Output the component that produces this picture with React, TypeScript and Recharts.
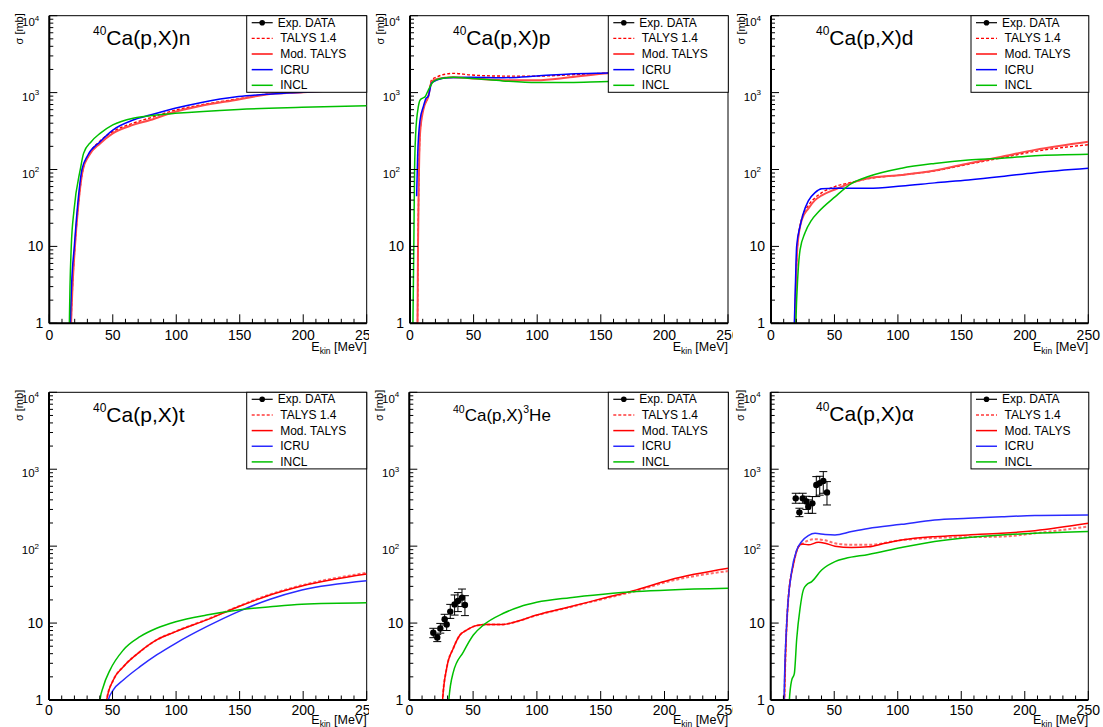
import React from 'react';
import { ComposedChart, Line, Scatter, XAxis, YAxis, ReferenceArea, ErrorBar } from 'recharts';

// ---------- data: [E_kin (MeV), sigma (mb)] ----------
// (p,X)n
const N_TALYS14 = [[16.8,0.5],[17.2,1],[18.3,3],[20.2,10],[22.5,30],[26.5,100],[31,155],[40,235],[50,310],[66,400],[79.5,470],[99,590],[119,690],[149,830],[170,950],[200,1020],[225,1080],[250,1130]];
const N_MOD = [[16.8,0.5],[17.2,1],[18.3,3],[20.2,10],[22.5,30],[26.5,100],[31,150],[40,218],[50,295],[66,380],[79.5,440],[99,565],[119,670],[149,815],[170,940],[200,1010],[225,1070],[250,1120]];
const N_ICRU = [[16.3,0.5],[16.6,1],[17.5,3],[19.7,10],[22,30],[25.7,100],[30,150],[40,230],[50,326],[66,440],[79.5,510],[99,625],[119,740],[149,888],[175,960],[200,1010],[225,1060],[250,1100]];
const N_INCL = [[15.5,0.5],[15.8,1],[16.3,3],[17.3,10],[19.5,30],[24.4,100],[27,162],[33,230],[40,295],[50,380],[66,465],[79.5,500],[99,537],[149,605],[199,643],[250,675]];
// (p,X)p
const P_TALYS14 = [[5.7,0.5],[5.9,1],[6.3,10],[6.8,50],[7.9,300],[10.5,610],[14.4,900],[17,1460],[21,1600],[34,1780],[47,1700],[73,1640],[99.5,1640],[125.7,1700],[155.8,1800],[200,1900],[250,2000]];
const P_MOD = [[5.7,0.5],[5.9,1],[6.3,10],[6.8,50],[7.9,295],[10.5,600],[14.4,890],[17,1390],[21,1500],[34,1580],[47,1540],[73,1450],[99.5,1450],[125.7,1580],[155.8,1780],[200,1900],[250,2000]];
const P_ICRU = [[5.2,45],[6,150],[7.9,440],[10.5,660],[12.6,840],[14.4,900],[17,1330],[21,1450],[28.8,1560],[47,1580],[73,1560],[99.5,1640],[125.7,1750],[155.8,1800],[200,1870],[250,1930]];
const P_INCL = [[2.0,0.5],[2.3,1],[3,10],[3.6,100],[4.5,300],[5.2,440],[6.5,650],[7.9,800],[10,850],[11.8,880],[14.4,1080],[18.3,1390],[22,1490],[26,1540],[34,1580],[47,1540],[73,1420],[99.5,1350],[125.7,1350],[155.8,1390],[200,1400],[250,1410]];
// (p,X)d
const D_TALYS14 = [[18.3,0.5],[18.8,1],[19.6,3],[20.8,10],[24.2,23],[29.4,34],[34.7,43],[40,50],[50.4,60],[63.6,68],[76.7,76],[103,85],[129,96],[155.5,117],[181.7,142],[208,172],[250,210]];
const D_MOD = [[18.3,0.5],[18.8,1],[19.6,3],[20.8,10],[24.2,22],[29.4,31],[34.7,40],[40,46],[50.4,55],[63.6,67],[76.7,77],[103,85],[129,97],[155.5,120],[181.7,147],[208,180],[250,230]];
const D_ICRU = [[18.0,0.5],[18.4,1],[19.2,3],[20.2,10],[22.8,18],[25.5,27],[29.4,39],[34.7,50],[40,56],[50.4,57],[76.7,57],[103,61],[129,67],[155.5,73],[181.7,81],[208,91],[250,104]];
const D_INCL = [[19.2,0.5],[19.6,1],[21.1,4],[22.9,9],[26.8,15],[32,22],[37.3,28],[50.4,44],[63.6,66],[76.7,81],[103,104],[129,120],[155.5,133],[181.7,140],[208,151],[250,158]];
// (p,X)t
const T_TALYS14 = [[45,0.6],[45.4,1],[50.6,1.82],[58.5,2.71],[71.6,4.25],[84.7,6.03],[99.7,7.8],[124,11.1],[149,16.5],[174,23.6],[199,31],[250,45]];
const T_MOD = [[45,0.6],[45.4,1],[50.6,1.82],[58.5,2.71],[71.6,4.25],[84.7,6.03],[99.7,7.73],[124,11],[149,16.3],[174,23.2],[199,30.4],[250,43.5]];
const T_ICRU = [[46.3,0.6],[46.7,1],[50.6,1.35],[58.5,1.82],[71.6,2.71],[84.7,3.85],[99.7,5.46],[124,8.97],[149,14.1],[174,20.4],[199,26.9],[250,35.6]];
const T_INCL = [[39.8,0.6],[40.1,1],[42.7,1.49],[48,2.45],[58.5,4.47],[71.6,6.65],[84.7,8.55],[99.7,10.4],[124,12.7],[149,14.8],[174,16.3],[199,17.6],[250,18.4]];
// (p,X)3He
const H_TALYS14 = [[25.8,0.6],[26.1,1],[29.3,2.6],[34.5,4.7],[39.7,7],[44.9,8.1],[52.8,9.3],[60.6,9.6],[73.7,9.6],[81.5,10.2],[99.8,12.6],[125.9,16.1],[152,20.6],[178,26.3],[204,35],[250,47.5]];
const H_MOD = [[25.8,0.6],[26.1,1],[29.3,2.6],[34.5,4.7],[39.7,7],[44.9,8.1],[52.8,9.3],[60.6,9.6],[73.7,9.6],[81.5,10.2],[99.8,12.7],[125.9,16.3],[152,21],[178,27],[204,36.4],[250,51.5]];
const H_INCL = [[30.8,0.6],[31,1],[34.5,2.3],[42.3,4.2],[50.2,7],[58,9.4],[73.7,13.4],[86.7,16.3],[99.8,18.6],[125.9,21.4],[152,23.7],[178,25.7],[204,27],[250,28.3]];
const H_EXP = [[18.8,7.5,1.04,1.05],[21.9,6.5,0.76,0.64],[24.3,8.5,1.1,1.4],[27.7,11.2,1.75,1.8],[29.3,9.6,1.6,1.9],[32.1,14.1,2.6,3.4],[35.5,17.5,4.8,5.7],[38.1,19.4,5.3,5.5],[41.3,21.4,5.0,6.3],[43.6,17.2,4.7,5.5]];
// (p,X)alpha
const A_TALYS14 = [[10.6,0.6],[10.8,1],[13.9,21],[17.8,57],[21.8,98],[24.4,106],[34,123],[42.8,119],[50.6,109],[63.7,104],[76.9,104],[103,120],[129,128],[155.5,131],[181.8,133],[208,147],[250,180]];
const A_MOD = [[10.6,0.6],[10.8,1],[13.9,21],[17.8,57],[21.8,98],[24.4,107],[29.6,104],[37.5,112],[42.8,109],[50.6,100],[63.7,96],[76.9,98],[90,109],[103,120],[129,133],[155.5,140],[181.8,147],[208,159],[250,198]];
const A_ICRU = [[10.3,0.6],[10.5,1],[12.6,10],[16.5,47],[20.5,89],[24.4,115],[29.6,137],[34.9,147],[42.8,142],[50.6,140],[63.7,155],[76.9,170],[103,192],[129,219],[155.5,230],[181.8,241],[208,250],[250,254]];
const A_INCL = [[14.5,0.6],[14.7,1],[16.5,1.8],[18.6,2.2],[20.5,6.3],[23.1,15.5],[25.7,27],[28.3,31.5],[32.3,34.6],[40.1,49],[50.6,63],[58.5,69],[76.9,78],[103,96],[129,115],[155.5,130],[181.8,140],[208,147],[250,155]];
const A_EXP = [[19.7,418,57,69],[22.6,275,33,36],[25.2,418,57,69],[28.1,380,80,65],[29.6,325,58,74],[32.8,360,93,81],[35.9,625,184,177],[38.6,660,200,150],[41.4,705,218,226],[44.3,500,157,190]];

// ---------- ticks & labels ----------
const X_TICKS = [0,10,20,30,40,50,60,70,80,90,100,110,120,130,140,150,160,170,180,190,200,210,220,230,240,250];
const Y_TICKS = [1,2,3,4,5,6,7,8,9,10,20,30,40,50,60,70,80,90,100,200,300,400,500,600,700,800,900,1000,2000,3000,4000,5000,6000,7000,8000,9000,10000];
const LEGEND_LABELS = ['Exp. DATA', 'TALYS 1.4', 'Mod. TALYS', 'ICRU', 'INCL'];
const PARTICLES = ['n', 'p', 'd', 't', 'He', 'α'];

type Pt = { e: number; s: number };
const toPts = (a: number[][]): Pt[] => a.map(([e, s]) => ({ e, s }));
const toExp = (a: number[][]) => a.map(([e, s, lo, hi]) => ({ e, s, err: [lo, hi] }));

const FONT = '"Liberation Sans", Arial, Helvetica, sans-serif';

const YTick = (props: any) => {
  const { x, y, payload } = props;
  const v = payload.value as number;
  const lg = Math.log10(v);
  const n = Math.round(lg);
  const major = Math.abs(lg - n) < 1e-6;
  return (
    <g>
      <line x1={x} x2={x + (major ? 8 : 4)} y1={y} y2={y} stroke="#000" strokeWidth={1} />
      {major && n <= 1 && (
        <text x={x - 6} y={y + 5} textAnchor="end" fontSize={14} fill="#000" fontFamily={FONT}>{n === 0 ? '1' : '10'}</text>
      )}
      {major && n >= 2 && (
        <text x={x - 10} y={y + (n === 4 ? 10.5 : 8)} textAnchor="end" fontSize={11.5} fill="#000" fontFamily={FONT}>
          10<tspan dy={-5.5} fontSize={8}>{String(n)}</tspan>
        </text>
      )}
    </g>
  );
};

const makeXTick = (dy: number) => (props: any) => {
  const { x, y, payload } = props;
  const v = payload.value as number;
  const major = v % 50 === 0;
  return (
    <g>
      <line x1={x} x2={x} y1={y} y2={y - (major ? 9 : 4.5)} stroke="#000" strokeWidth={1} />
      {major && (
        <text x={x} y={y + dy} textAnchor="middle" fontSize={14} fill="#000" fontFamily={FONT}>{v}</text>
      )}
    </g>
  );
};

const ExpDot = (p: any) => <circle cx={p.cx} cy={p.cy} r={3.2} fill="#000" />;

type Cfg = {
  pad: [number, number, number, number];
  plot: [number, number, number, number];
  row: 0 | 1;
  particle: number;
  titleX: number;
  titleY: number;
  legend: [number, number];
  talys: Pt[];
  mod: Pt[];
  icru?: Pt[];
  incl: Pt[];
  exp?: { e: number; s: number; err: number[] }[];
};

const PANELS: Cfg[] = [
  { pad: [0, 0, 369, 363], plot: [49.3, 366.7, 15.7, 323.3], row: 0, particle: 0, titleX: 93, titleY: 45, legend: [246.7, 366.7], talys: toPts(N_TALYS14), mod: toPts(N_MOD), icru: toPts(N_ICRU), incl: toPts(N_INCL) },
  { pad: [369, 0, 364, 363], plot: [410, 728, 15.7, 323.3], row: 0, particle: 1, titleX: 453, titleY: 45, legend: [608.3, 728.3], talys: toPts(P_TALYS14), mod: toPts(P_MOD), icru: toPts(P_ICRU), incl: toPts(P_INCL) },
  { pad: [733, 0, 370, 363], plot: [771, 1088.3, 15.7, 323.3], row: 0, particle: 2, titleX: 816, titleY: 45, legend: [971, 1088.8], talys: toPts(D_TALYS14), mod: toPts(D_MOD), icru: toPts(D_ICRU), incl: toPts(D_INCL) },
  { pad: [0, 363, 369, 364], plot: [49, 366.7, 392.3, 700], row: 1, particle: 3, titleX: 93, titleY: 422, legend: [246.7, 366.7], talys: toPts(T_TALYS14), mod: toPts(T_MOD), icru: toPts(T_ICRU), incl: toPts(T_INCL) },
  { pad: [369, 363, 364, 364], plot: [409.3, 728.3, 392.3, 700], row: 1, particle: 4, titleX: 453, titleY: 421, legend: [608.3, 728.3], talys: toPts(H_TALYS14), mod: toPts(H_MOD), incl: toPts(H_INCL), exp: toExp(H_EXP) },
  { pad: [733, 363, 370, 364], plot: [770.7, 1088.3, 392.3, 700], row: 1, particle: 5, titleX: 816, titleY: 421, legend: [971, 1088.8], talys: toPts(A_TALYS14), mod: toPts(A_MOD), icru: toPts(A_ICRU), incl: toPts(A_INCL), exp: toExp(A_EXP) },
];

const STYLES = [
  { talys: { stroke: '#ff0000', w: 1.4 }, mod: { stroke: '#ff4a4a', w: 2 }, icru: '#0000ff', incl: '#00c000' },
  { talys: { stroke: '#ff6a6a', w: 2 }, mod: { stroke: '#ff0000', w: 1.5 }, icru: '#2a2aff', incl: '#00c000' },
];

function Title({ cfg, ox, oy }: { cfg: Cfg; ox: number; oy: number }) {
  const x = cfg.titleX - ox;
  const y = cfg.titleY - oy;
  if (cfg.particle === 4) {
    return (
      <text x={x} y={y} fontSize={17} fill="#000" fontFamily={FONT}>
        <tspan fontSize={10.5} dy={-8.5}>40</tspan>
        <tspan dy={8.5}>Ca(p,X)</tspan>
        <tspan fontSize={10.5} dy={-8.5}>3</tspan>
        <tspan dy={8.5}>{PARTICLES[4]}</tspan>
      </text>
    );
  }
  return (
    <text x={x} y={y} fontSize={21} fill="#000" fontFamily={FONT}>
      <tspan fontSize={12} dy={-10}>40</tspan>
      <tspan dy={10}>{'Ca(p,X)' + PARTICLES[cfg.particle]}</tspan>
    </text>
  );
}

function LegendBox({ cfg, ox, oy, st }: { cfg: Cfg; ox: number; oy: number; st: any }) {
  const x = cfg.legend[0] - ox;
  const w = cfg.legend[1] - cfg.legend[0];
  const y = cfg.plot[2] - oy;
  const h = 76.6;
  const rows = LEGEND_LABELS.map((lab, i) => {
    const cy = y + 7 + i * 15.65;
    let sample: React.ReactNode = null;
    if (i === 0) {
      sample = (
        <g>
          <line x1={x + 5} x2={x + 26} y1={cy} y2={cy} stroke="#000" strokeWidth={1.2} />
          <circle cx={x + 15.5} cy={cy} r={2.8} fill="#000" />
        </g>
      );
    } else if (i === 1) {
      sample = <line x1={x + 5} x2={x + 26} y1={cy} y2={cy} stroke={st.talys.stroke} strokeWidth={st.talys.w} strokeDasharray="3 2" />;
    } else if (i === 2) {
      sample = <line x1={x + 5} x2={x + 26} y1={cy} y2={cy} stroke={st.mod.stroke} strokeWidth={st.mod.w} />;
    } else if (i === 3) {
      sample = <line x1={x + 5} x2={x + 26} y1={cy} y2={cy} stroke={st.icru} strokeWidth={1.5} />;
    } else {
      sample = <line x1={x + 5} x2={x + 26} y1={cy} y2={cy} stroke={st.incl} strokeWidth={1.5} />;
    }
    return (
      <g key={lab}>
        {sample}
        <text x={x + (i === 0 ? 31 : 33.5)} y={cy + 4} fontSize={12} fill="#000" fontFamily={FONT}>{lab}</text>
      </g>
    );
  });
  return (
    <g>
      <rect x={x} y={y} width={w} height={h} fill="#fff" stroke="#000" strokeWidth={1} />
      {rows}
    </g>
  );
}

function Panel({ cfg }: { cfg: Cfg }) {
  const [px, py, pw, ph] = cfg.pad;
  const [l, r, t, b] = cfg.plot;
  const L = l - px;
  const R = r - px;
  const T = t - py;
  const B = b - py;
  const chartW = pw + 40;
  const chartH = ph;
  const st = STYLES[cfg.row];
  const xTick = makeXTick(cfg.row === 0 ? 16.7 : 15);
  return (
    <div style={{ position: 'absolute', left: px, top: py, width: pw, height: ph, overflow: 'hidden' }}>
      <ComposedChart width={chartW} height={chartH} margin={{ top: T, right: chartW - R, bottom: 0, left: 0 }}>
        <XAxis type="number" dataKey="e" domain={[0, 250]} allowDataOverflow ticks={X_TICKS} interval={0}
          tickSize={0} tickMargin={0} tick={xTick} tickLine={false}
          axisLine={{ stroke: '#000', strokeWidth: 2 }} height={chartH - B} />
        <YAxis type="number" dataKey="s" scale="log" domain={[1, 10000]} allowDataOverflow ticks={Y_TICKS} interval={0}
          tickSize={0} tickMargin={0} tick={YTick} tickLine={false}
          axisLine={{ stroke: '#000', strokeWidth: 2 }} width={L} />
        <ReferenceArea x1={0} x2={250} y1={1} y2={10000} fill="none" fillOpacity={0} stroke="#000" strokeWidth={1} ifOverflow="visible" />
        <Line data={cfg.talys} dataKey="s" type="monotone" stroke={st.talys.stroke} strokeWidth={st.talys.w} strokeDasharray="3 2" dot={false} activeDot={false} isAnimationActive={false} />
        <Line data={cfg.mod} dataKey="s" type="monotone" stroke={st.mod.stroke} strokeWidth={st.mod.w} dot={false} activeDot={false} isAnimationActive={false} />
        {cfg.icru && (
          <Line data={cfg.icru} dataKey="s" type="monotone" stroke={st.icru} strokeWidth={1.5} dot={false} activeDot={false} isAnimationActive={false} />
        )}
        <Line data={cfg.incl} dataKey="s" type="monotone" stroke={st.incl} strokeWidth={1.5} dot={false} activeDot={false} isAnimationActive={false} />
        {cfg.exp && (
          <Scatter data={cfg.exp} dataKey="s" shape={ExpDot} isAnimationActive={false}>
            <ErrorBar dataKey="err" direction="y" width={4} stroke="#000" strokeWidth={1} />
          </Scatter>
        )}
      </ComposedChart>
      <svg width={pw} height={ph} style={{ position: 'absolute', left: 0, top: 0, pointerEvents: 'none', overflow: 'visible' }}>
        <Title cfg={cfg} ox={px} oy={py} />
        <text transform={`translate(${L - 26.5},${T - 2.5}) rotate(-90)`} textAnchor="end" fontSize={11} fill="#000" fontFamily={FONT}>σ [mb]</text>
        <text x={R} y={B + (cfg.row === 0 ? 27.7 : 24)} textAnchor="end" fontSize={12.5} fill="#000" fontFamily={FONT}>
          E<tspan fontSize={8.5} dy={3}>kin</tspan><tspan dy={-3}>{' [MeV]'}</tspan>
        </text>
        <LegendBox cfg={cfg} ox={px} oy={py} st={st} />
      </svg>
    </div>
  );
}

export default function App() {
  return (
    <div style={{ position: 'absolute', left: 0, top: 0, width: 1103, height: 727, background: '#fff', overflow: 'hidden', fontFamily: FONT }}>
      {PANELS.map((cfg, i) => (
        <Panel key={i} cfg={cfg} />
      ))}
    </div>
  );
}
